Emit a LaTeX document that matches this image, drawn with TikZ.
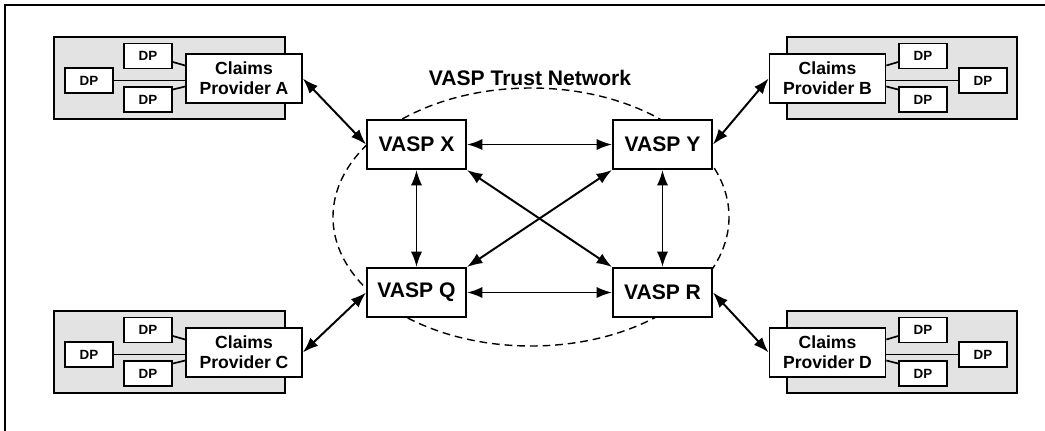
\documentclass[tikz,border=0pt]{standalone}
\usepackage{fontspec}
\setmainfont{Liberation Sans}
\usetikzlibrary{arrows.meta}

\begin{document}
\begin{tikzpicture}[x=0.025cm, y=-0.025cm, line width=1.2pt,
    vasp/.style={draw, fill=white, minimum width=2.48cm, minimum height=1.23cm, inner sep=0pt, font=\fontsize{15}{18}\selectfont\bfseries},
    provider/.style={draw, fill=white, minimum width=2.9cm, minimum height=1.23cm, inner sep=0pt, align=center, font=\fontsize{12.5}{14.5}\selectfont\bfseries},
    dp/.style={draw, fill=white, minimum width=1.2cm, minimum height=0.62cm, inner sep=0pt, font=\fontsize{9.5}{11}\selectfont\bfseries},
    group/.style={draw, line width=1.4pt, fill=black!11},
    twoway/.style={line width=1.4pt, {Latex[length=11pt,width=8pt]}-{Latex[length=11pt,width=8pt]}}]
  \useasboundingbox (0,0) rectangle (1045,430);
  \draw[line width=1.1pt] (5,445) -- (5,5) -- (1060,5);

  % trust network
  \draw[dashed, dash pattern=on 5.5pt off 3.5pt, line width=1pt] (531,217) ellipse [x radius=198, y radius=129];
  \node[font=\fontsize{15}{18}\selectfont\bfseries] (title) at (530,78) {VASP Trust Network};

  % provider groups
  \draw[group] (54,37) rectangle (285,119);
  \draw[group] (787,37) rectangle (1017,119);
  \draw[group] (54,311) rectangle (285,393);
  \draw[group] (787,311) rectangle (1017,393);

  \node[provider] (cpA) at (244,78.5) {Claims\\Provider A};
  \node[dp] (dpA1) at (148,56) {DP};
  \node[dp] (dpA2) at (89,80.5) {DP};
  \node[dp] (dpA3) at (148,99.5) {DP};
  \node[provider] (cpB) at (827.5,78.5) {Claims\\Provider B};
  \node[dp] (dpB1) at (923,56) {DP};
  \node[dp] (dpB2) at (983,80.5) {DP};
  \node[dp] (dpB3) at (923,99.5) {DP};
  \node[provider] (cpC) at (244,352.5) {Claims\\Provider C};
  \node[dp] (dpC1) at (148,330) {DP};
  \node[dp] (dpC2) at (89,354.5) {DP};
  \node[dp] (dpC3) at (148,373.5) {DP};
  \node[provider] (cpD) at (827.5,352.5) {Claims\\Provider D};
  \node[dp] (dpD1) at (923,330) {DP};
  \node[dp] (dpD2) at (983,354.5) {DP};
  \node[dp] (dpD3) at (923,373.5) {DP};

  \draw ([shift={(0,6)}]dpA1.east) -- ([shift={(0,-13)}]cpA.west);
  \draw (dpA2.east) -- ([shift={(0,2)}]cpA.west);
  \draw ([shift={(0,-10)}]dpA3.east) -- ([shift={(0,8)}]cpA.west);
  \draw ([shift={(0,6)}]dpB1.west) -- ([shift={(0,-13)}]cpB.east);
  \draw (dpB2.west) -- ([shift={(0,2)}]cpB.east);
  \draw ([shift={(0,-10)}]dpB3.west) -- ([shift={(0,8)}]cpB.east);
  \draw ([shift={(0,6)}]dpC1.east) -- ([shift={(0,-13)}]cpC.west);
  \draw (dpC2.east) -- ([shift={(0,2)}]cpC.west);
  \draw ([shift={(0,-10)}]dpC3.east) -- ([shift={(0,8)}]cpC.west);
  \draw ([shift={(0,6)}]dpD1.west) -- ([shift={(0,-13)}]cpD.east);
  \draw (dpD2.west) -- ([shift={(0,2)}]cpD.east);
  \draw ([shift={(0,-10)}]dpD3.west) -- ([shift={(0,8)}]cpD.east);

  % vasps
  \node[vasp] (vX) at (416.5,144.5) {VASP X};
  \node[vasp] (vY) at (662.5,144.5) {VASP Y};
  \node[vasp] (vQ) at (416.5,292.5) {VASP Q};
  \node[vasp] (vR) at (662.5,292.5) {VASP R};

  \draw[twoway] (vX) -- (vY);
  \draw[twoway] (vQ) -- (vR);
  \draw[twoway] (vX) -- (vQ);
  \draw[twoway] (vY) -- (vR);
  \draw[twoway] (vX.south east) -- (vR.north west);
  \draw[twoway] (vY.south west) -- (vQ.north east);

  \draw[twoway] (cpA.east) -- (vX.west);
  \draw[twoway] (cpB.west) -- (vY.east);
  \draw[twoway] (cpC.east) -- (vQ.west);
  \draw[twoway] (cpD.west) -- (vR.east);
\end{tikzpicture}
\end{document}
